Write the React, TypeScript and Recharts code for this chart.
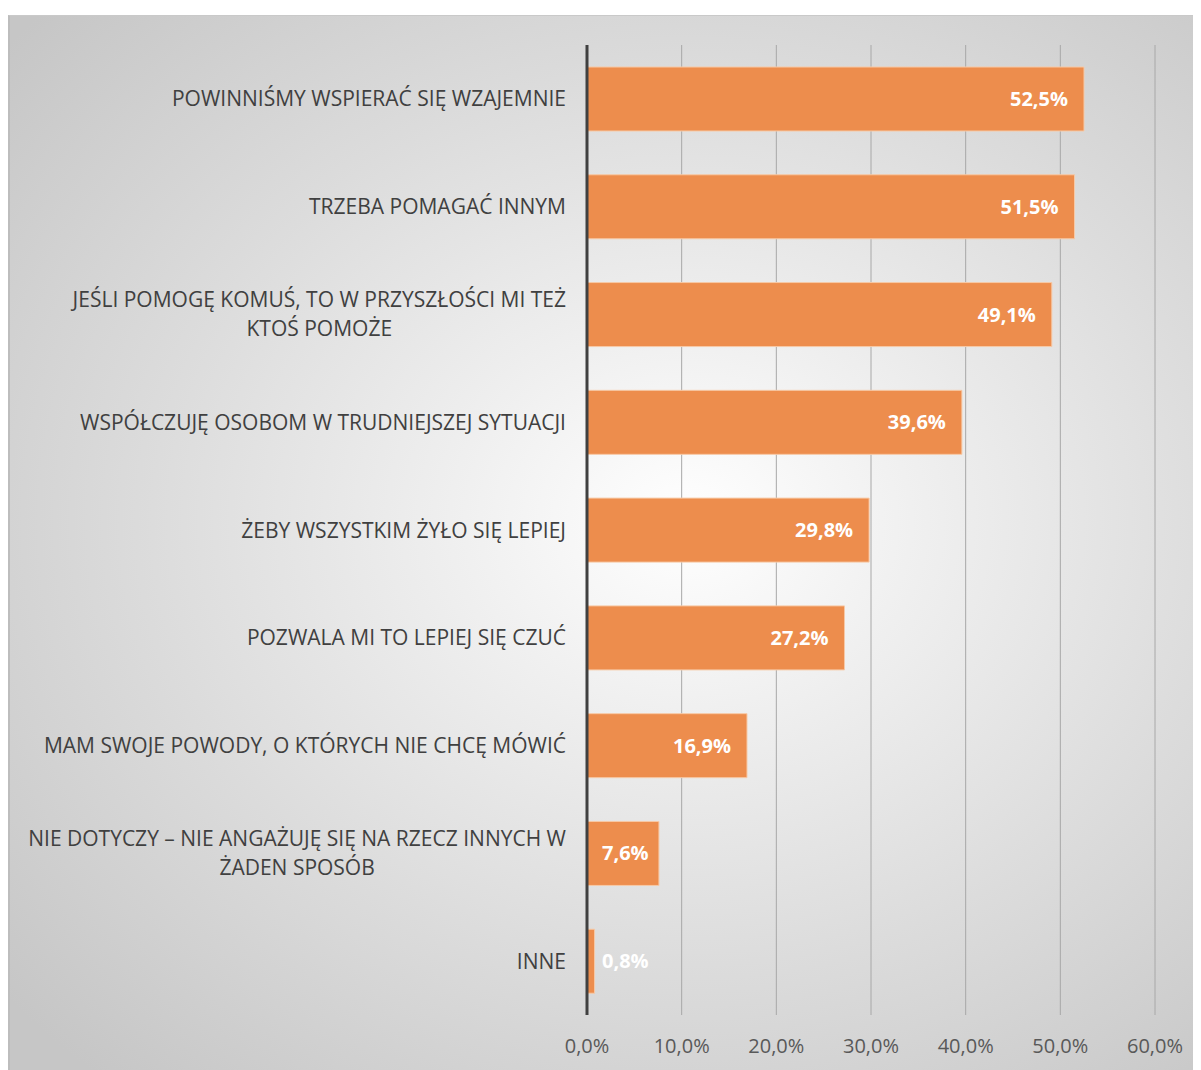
import React from "react";
import { BarChart, Bar, XAxis, YAxis, CartesianGrid, LabelList } from "recharts";

const categories = [
  "POWINNIŚMY WSPIERAĆ SIĘ WZAJEMNIE",
  "TRZEBA POMAGAĆ INNYM",
  "JEŚLI POMOGĘ KOMUŚ, TO W PRZYSZŁOŚCI MI TEŻ\nKTOŚ POMOŻE",
  "WSPÓŁCZUJĘ OSOBOM W TRUDNIEJSZEJ SYTUACJI",
  "ŻEBY WSZYSTKIM ŻYŁO SIĘ LEPIEJ",
  "POZWALA MI TO LEPIEJ SIĘ CZUĆ",
  "MAM SWOJE POWODY, O KTÓRYCH NIE CHCĘ MÓWIĆ",
  "NIE DOTYCZY – NIE ANGAŻUJĘ SIĘ NA RZECZ INNYCH W\nŻADEN SPOSÓB",
  "INNE",
];
const values = [52.5, 51.5, 49.1, 39.6, 29.8, 27.2, 16.9, 7.6, 0.8];
const xTicks = [0, 10, 20, 30, 40, 50, 60];

const data = categories.map((c, i) => ({ category: c, value: values[i] }));

const FONT = "'Open Sans', 'DejaVu Sans', sans-serif";
const CAT_SIZE = 21;
const fmt = (v: number) => v.toFixed(1).replace(".", ",") + "%";

let ctx: CanvasRenderingContext2D | null = null;
function measure(t: string, font: string): number {
  if (!ctx) {
    const c = document.createElement("canvas");
    ctx = c.getContext("2d");
  }
  if (!ctx) return t.length * 12;
  ctx.font = font;
  return ctx.measureText(t).width;
}

const YTick = (props: any) => {
  const { y, payload } = props;
  const plotLeft = 579;
  const lines: string[] = String(payload.value).split("\n");
  const right = plotLeft - 23;
  const lh = 29;
  if (lines.length === 1) {
    return (
      <text x={right} y={y} dy={7.5} textAnchor="end" fontFamily={FONT} fontSize={CAT_SIZE} fill="#404040">
        {lines[0]}
      </text>
    );
  }
  const maxW = Math.max(...lines.map((l) => measure(l, `${CAT_SIZE}px 'Open Sans'`)));
  const cx = right - maxW / 2;
  const y0 = y - ((lines.length - 1) * lh) / 2;
  return (
    <g>
      {lines.map((l, i) => (
        <text key={i} x={cx} y={y0 + i * lh} dy={7.5} textAnchor="middle" fontFamily={FONT} fontSize={CAT_SIZE} fill="#404040">
          {l}
        </text>
      ))}
    </g>
  );
};

const XTick = (props: any) => {
  const { x, y, payload } = props;
  return (
    <text x={x} y={y} dy={38} textAnchor="middle" fontFamily={FONT} fontSize={20} fill="#595959">
      {fmt(payload.value)}
    </text>
  );
};

const renderLabel = (props: any) => {
  const { x, y, width, height, value } = props;
  const txt = fmt(value);
  const tw = measure(txt, "bold 20px 'Open Sans'");
  const start = Math.max(x + width - 16 - tw, x + 15);
  return (
    <text
      x={start}
      y={y + height / 2}
      dy={7}
      textAnchor="start"
      fontFamily={FONT}
      fontSize={20}
      fontWeight={700}
      fill="#ffffff"
    >
      {txt}
    </text>
  );
};

export default function App() {
  return (
    <div style={{ position: "relative", width: 1193, height: 1062 }}>
      <div
        style={{
          position: "absolute",
          left: 0,
          top: 7,
          width: 1192,
          height: 1055,
          background:
            "radial-gradient(ellipse 75% 70% at 57% 48%, #ffffff 0%, #f0f0f0 25%, #dcdcdc 60%, #c6c6c6 100%)",
          borderLeft: "2px solid #bdbdbd",
          borderTop: "1px solid #c9c9c9",
          boxSizing: "border-box",
        }}
      >
        <BarChart
          width={1190}
          height={1054}
          data={data}
          layout="vertical"
          margin={{ top: 29, right: 45, left: 0, bottom: 0 }}
        >
          <CartesianGrid horizontal={false} vertical={true} stroke="#a8a8a8" strokeWidth={1} />
          <XAxis
            type="number"
            domain={[0, 60]}
            ticks={xTicks}
            axisLine={false}
            tickLine={false}
            tickSize={0}
            tickMargin={0}
            tick={<XTick />}
            height={55}
            interval={0}
          />
          <YAxis
            type="category"
            dataKey="category"
            width={577}
            axisLine={{ stroke: "#404040", strokeWidth: 3 }}
            tickLine={false}
            tick={<YTick />}
            interval={0}
          />
          <Bar dataKey="value" fill="#ED8D4D" stroke="#F7C9A6" strokeWidth={1} barSize={64} isAnimationActive={false}>
            <LabelList dataKey="value" content={renderLabel} />
          </Bar>
        </BarChart>
      </div>
    </div>
  );
}
